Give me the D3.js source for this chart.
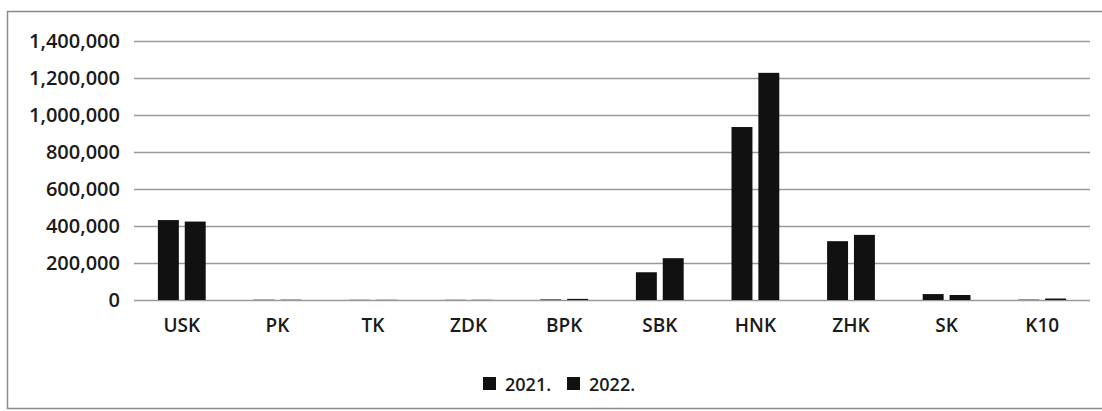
<!DOCTYPE html>
<html>
<head>
<meta charset="utf-8">
<script src="https://cdn.jsdelivr.net/npm/d3@7"></script>
<style>
  body { margin: 0; background: #fff; }
  svg text { font-family: "Open Sans", sans-serif; font-weight: 600; fill: #1a1a1a; }
</style>
</head>
<body>
<svg id="chart" width="1102" height="411"></svg>
<script>
const categories = ['USK', 'PK', 'TK', 'ZDK', 'BPK', 'SBK', 'HNK', 'ZHK', 'SK', 'K10']
const years = ['2021.', '2022.']
const values2021 = [432000, 1500, 1000, 1000, 3000, 150000, 935000, 318000, 32000, 2000]
const values2022 = [424000, 1500, 1000, 1000, 6000, 226000, 1228000, 352000, 27000, 8000]
const yTicks = [0, 200000, 400000, 600000, 800000, 1000000, 1200000, 1400000]

const svg = d3.select('#chart')
const plotLeft = 134, plotRight = 1090
const plotTop = 41, plotBottom = 300

// frame round the chart
svg.append('rect')
  .attr('x', 7.5).attr('y', 11.5)
  .attr('width', 1110).attr('height', 397)
  .attr('fill', 'none').attr('stroke', '#8a8a8a').attr('stroke-width', 1.5)

const x0 = d3.scaleBand()
  .domain(categories)
  .range([plotLeft, plotRight])
  .paddingInner(0.5)
  .paddingOuter(0.25)

const x1 = d3.scaleBand()
  .domain(years)
  .range([0, x0.bandwidth()])
  .paddingInner(0.22)

const y = d3.scaleLinear()
  .domain([0, 1400000])
  .range([plotBottom, plotTop])

// gridlines + y labels
const yAxis = svg.append('g')
  .attr('transform', 'translate(' + plotLeft + ',0)')
  .call(d3.axisLeft(y)
    .tickValues(yTicks)
    .tickSize(-(plotRight - plotLeft))
    .tickPadding(14)
    .tickFormat(d3.format(',')))
yAxis.select('.domain').remove()
yAxis.selectAll('line').attr('stroke', '#9a9a9a').attr('stroke-width', 1.6)
yAxis.selectAll('text').style('font-size', '20px').attr('fill', '#1a1a1a')

// category labels
const xAxis = svg.append('g')
  .attr('transform', 'translate(0,' + plotBottom + ')')
  .call(d3.axisBottom(x0).tickSize(0).tickPadding(19))
xAxis.select('.domain').remove()
xAxis.selectAll('text').style('font-size', '19px').attr('fill', '#1a1a1a')

const rows = categories.map((c, i) => ({cat: c, vals: [values2021[i], values2022[i]]}))

svg.append('g').selectAll('g')
  .data(rows)
  .join('g')
    .attr('transform', d => 'translate(' + x0(d.cat) + ',0)')
  .selectAll('rect')
  .data(d => d.vals.map((v, j) => ({year: years[j], v: v})))
  .join('rect')
    .attr('x', d => x1(d.year))
    .attr('y', d => y(d.v))
    .attr('width', x1.bandwidth())
    .attr('height', d => plotBottom - y(d.v))
    .attr('fill', '#111')

// legend
const legend = svg.append('g').attr('transform', 'translate(483,377)')
const lx = [0, 84]
years.forEach((yr, i) => {
  legend.append('rect')
    .attr('x', lx[i]).attr('y', 0)
    .attr('width', 13).attr('height', 13)
    .attr('fill', '#111')
  legend.append('text')
    .attr('x', lx[i] + 22).attr('y', 13.5)
    .style('font-size', '18px')
    .text(yr)
})
</script>
</body>
</html>
